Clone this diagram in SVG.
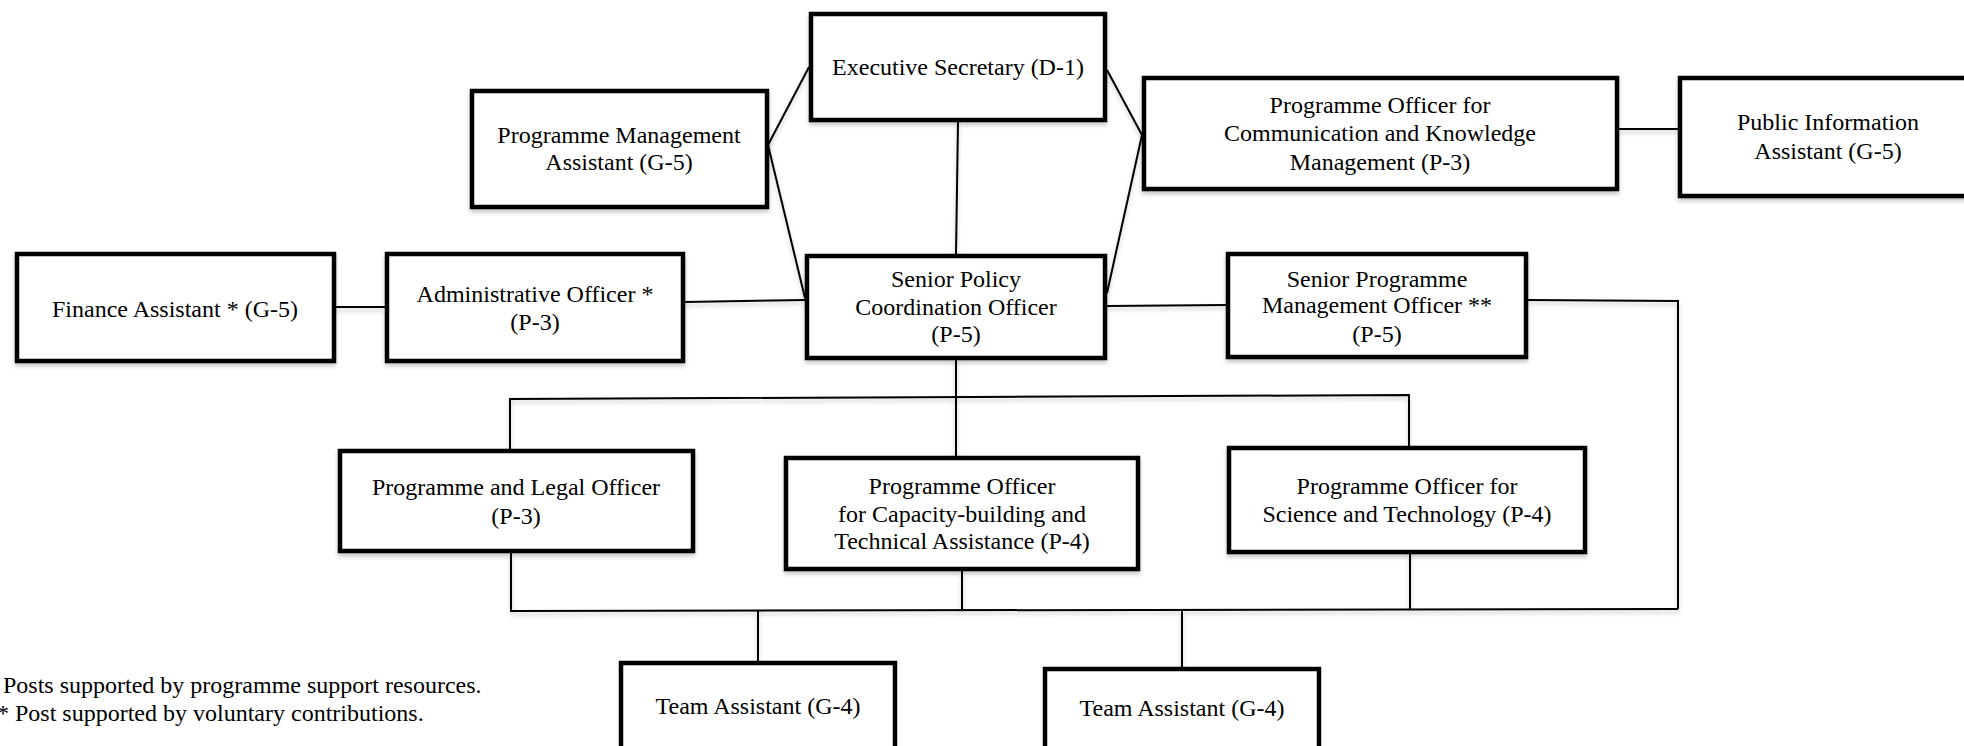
<svg xmlns="http://www.w3.org/2000/svg" width="1964" height="746" viewBox="0 0 1964 746">
<defs>
<filter id="sh" x="-5%" y="-20%" width="110%" height="150%">
<feDropShadow dx="0" dy="3" stdDeviation="2" flood-color="#000" flood-opacity="0.22"/>
</filter>
</defs>
<style>
.box{fill:#fff;stroke:#000;stroke-width:4.5}
.t{font-family:"Liberation Serif","Times New Roman",serif;font-size:24px;fill:#000;text-anchor:middle}
.n{font-family:"Liberation Serif","Times New Roman",serif;font-size:24px;fill:#000}
.c{fill:none;stroke:#000;stroke-width:2}
</style>
<rect width="1964" height="746" fill="#fff"/>
<g id="connectors" filter="url(#sh)">
<line class="c" x1="336" y1="307" x2="385" y2="307"/>
<line class="c" x1="685" y1="302" x2="805" y2="300"/>
<line class="c" x1="768" y1="145" x2="809" y2="67"/>
<line class="c" x1="768" y1="145" x2="805" y2="298"/>
<line class="c" x1="958" y1="122" x2="956" y2="254"/>
<line class="c" x1="1107" y1="70" x2="1142" y2="135"/>
<line class="c" x1="1107" y1="293" x2="1142" y2="135"/>
<line class="c" x1="1619" y1="129" x2="1678" y2="129"/>
<line class="c" x1="1107" y1="306" x2="1226" y2="305"/>
<polyline class="c" points="1528,300 1678,301 1678,609"/>
<line class="c" x1="956" y1="360" x2="956" y2="456"/>
<polyline class="c" points="510,449 510,399 1409,395 1409,446"/>
<polyline class="c" points="511,553 511,611 1678,609"/>
<line class="c" x1="962" y1="571" x2="962" y2="610"/>
<line class="c" x1="1410" y1="554" x2="1410" y2="609"/>
<line class="c" x1="758" y1="611" x2="758" y2="661"/>
<line class="c" x1="1182" y1="610" x2="1182" y2="667"/>
</g>
<g id="executive-secretary">
<rect class="box" x="811" y="14" width="294" height="106" filter="url(#sh)"/>
<text class="t" x="958" y="75">Executive Secretary (D-1)</text>
</g>
<g id="programme-management-assistant">
<rect class="box" x="472" y="91" width="295" height="116" filter="url(#sh)"/>
<text class="t" x="619" y="143">Programme Management</text>
<text class="t" x="619" y="170">Assistant (G-5)</text>
</g>
<g id="po-communication">
<rect class="box" x="1144" y="78" width="473" height="111" filter="url(#sh)"/>
<text class="t" x="1380" y="113">Programme Officer for</text>
<text class="t" x="1380" y="141">Communication and Knowledge</text>
<text class="t" x="1380" y="170">Management (P-3)</text>
</g>
<g id="public-information-assistant">
<rect class="box" x="1680" y="78" width="300" height="118" filter="url(#sh)"/>
<text class="t" x="1828" y="130">Public Information</text>
<text class="t" x="1828" y="159">Assistant (G-5)</text>
</g>
<g id="finance-assistant">
<rect class="box" x="17" y="254" width="317" height="107" filter="url(#sh)"/>
<text class="t" x="175" y="317">Finance Assistant * (G-5)</text>
</g>
<g id="administrative-officer">
<rect class="box" x="387" y="254" width="296" height="107" filter="url(#sh)"/>
<text class="t" x="535" y="302">Administrative Officer *</text>
<text class="t" x="535" y="330">(P-3)</text>
</g>
<g id="senior-policy-coordination-officer">
<rect class="box" x="807" y="256" width="298" height="102" filter="url(#sh)"/>
<text class="t" x="956" y="287">Senior Policy</text>
<text class="t" x="956" y="315">Coordination Officer</text>
<text class="t" x="956" y="342">(P-5)</text>
</g>
<g id="senior-programme-management-officer">
<rect class="box" x="1228" y="254" width="298" height="103" filter="url(#sh)"/>
<text class="t" x="1377" y="287">Senior Programme</text>
<text class="t" x="1377" y="313">Management Officer **</text>
<text class="t" x="1377" y="342">(P-5)</text>
</g>
<g id="programme-legal-officer">
<rect class="box" x="340" y="451" width="353" height="100" filter="url(#sh)"/>
<text class="t" x="516" y="495">Programme and Legal Officer</text>
<text class="t" x="516" y="524">(P-3)</text>
</g>
<g id="po-capacity-building">
<rect class="box" x="786" y="458" width="352" height="111" filter="url(#sh)"/>
<text class="t" x="962" y="494">Programme Officer</text>
<text class="t" x="962" y="522">for Capacity-building and</text>
<text class="t" x="962" y="549">Technical Assistance (P-4)</text>
</g>
<g id="po-science-technology">
<rect class="box" x="1229" y="448" width="356" height="104" filter="url(#sh)"/>
<text class="t" x="1407" y="494">Programme Officer for</text>
<text class="t" x="1407" y="522">Science and Technology (P-4)</text>
</g>
<g id="team-assistant-1">
<rect class="box" x="621" y="663" width="274" height="100"/>
<text class="t" x="758" y="714">Team Assistant (G-4)</text>
</g>
<g id="team-assistant-2">
<rect class="box" x="1045" y="669" width="274" height="100"/>
<text class="t" x="1182" y="716">Team Assistant (G-4)</text>
</g>
<g id="footnotes">
<text class="n" x="3" y="693">Posts supported by programme support resources.</text>
<text class="n" x="-3" y="721">* Post supported by voluntary contributions.</text>
</g>
</svg>
